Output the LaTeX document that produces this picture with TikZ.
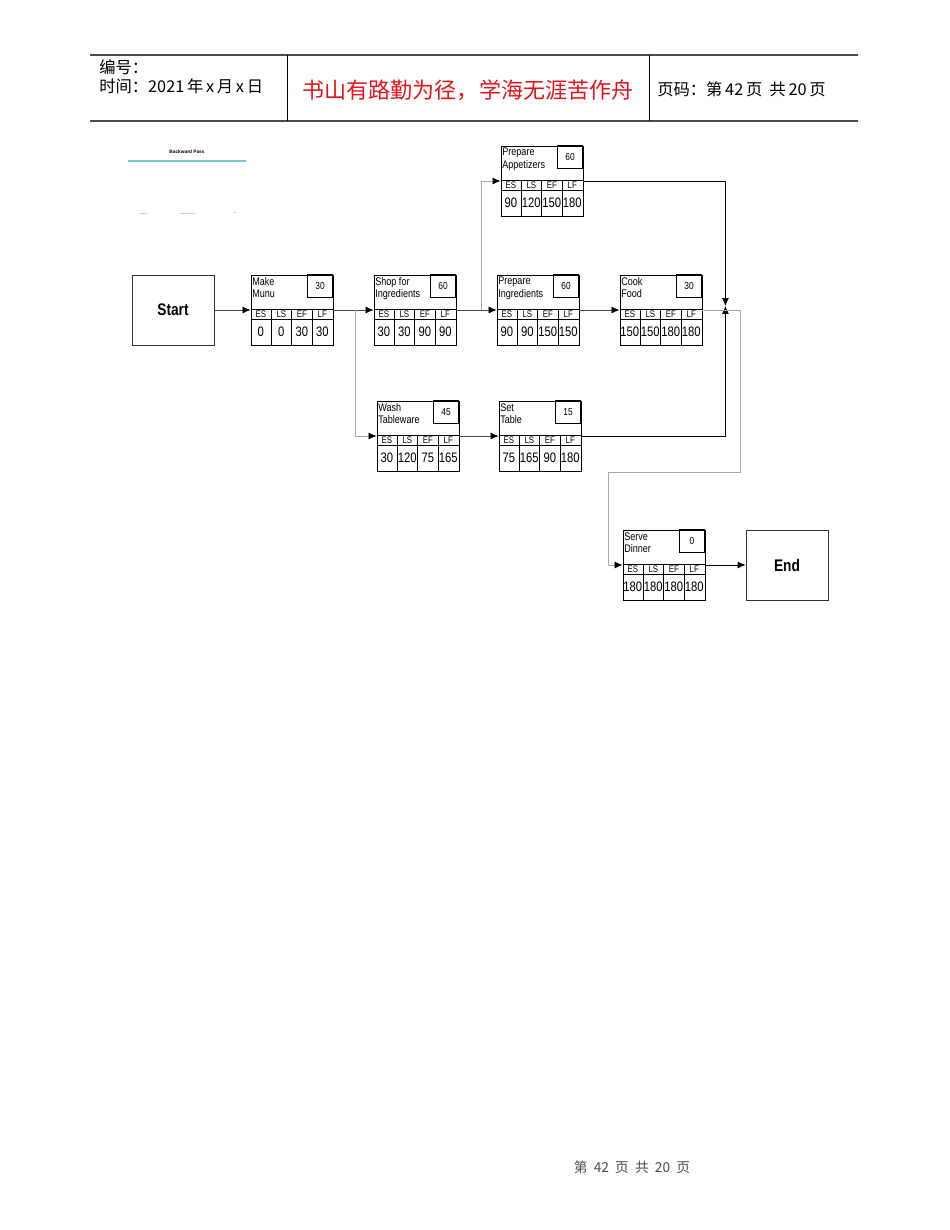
\documentclass[tikz,border=0pt]{standalone}
\usepackage{fontspec}
\setmainfont{Liberation Sans}
\newfontfamily\cjk{Noto Sans CJK SC}
\newfontfamily\boxfont[FakeStretch=0.82]{Liberation Sans}
\usetikzlibrary{arrows.meta,calc}

\definecolor{linkgray}{HTML}{4A4A4A}
\definecolor{feedgray}{HTML}{A8A8A8}
\definecolor{mottored}{HTML}{E5121C}
\definecolor{passblue}{HTML}{7FC3D6}

\tikzset{
  boxline/.style={draw=black, line width=0.55pt},
  actrect/.style={boxline, rectangle, inner sep=0pt,
    minimum width=82*0.626pt, minimum height=70*0.626pt},
  termbox/.style={draw=black!80, line width=0.5pt, rectangle, inner sep=0pt,
    minimum width=82*0.626pt, minimum height=70*0.626pt,
    font=\boxfont\bfseries\fontsize{10.5}{12}\selectfont},
  nametxt/.style={anchor=north west, inner sep=0pt, align=left,
    font=\boxfont\fontsize{6.9}{7.8}\selectfont},
  durtxt/.style={inner sep=0pt, font=\boxfont\fontsize{6.4}{7}\selectfont},
  lbltxt/.style={inner sep=0pt, font=\boxfont\fontsize{6}{6.5}\selectfont},
  valtxt/.style={inner sep=0pt, font=\boxfont\fontsize{8.6}{9}\selectfont},
  conn/.style={draw=linkgray, line width=0.5pt,
    -{Latex[length=5pt, width=4.4pt, color=black]}},
  feed/.style={conn, draw=feedgray},
  hdrline/.style={draw=black!70, line width=0.8pt},
}

% activity box: id, x, y (centre), name, duration, ES, LS, EF, LF
\newcommand\actbox[9]{%
  \node[actrect] (#1) at (#2,#3) {};
  \begin{scope}[shift={(#1.north west)}]
    \draw[boxline] (57,0) rectangle (82,23);
    \node[durtxt] at (69.5,11.5) {#5};
    \node[nametxt] at (1.5,2.5) {#4};
    \draw[boxline] (0,35) -- (82,35);
    \draw[boxline] (0,45) -- (82,45);
    \foreach \c in {20.5,41,61.5}
      \draw[boxline] (\c,35) -- (\c,70);
    \foreach \t [count=\i] in {ES,LS,EF,LF}
      \node[lbltxt] at (\i*20.5-10.25,40) {\t};
    \node[valtxt] at (10.25,57.5) {#6};
    \node[valtxt] at (30.75,57.5) {#7};
    \node[valtxt] at (51.25,57.5) {#8};
    \node[valtxt] at (71.75,57.5) {#9};
  \end{scope}}

\begin{document}
\begin{tikzpicture}[x=0.626pt, y=-0.626pt]
  \useasboundingbox (0,0) rectangle (950,1230);

  % page header
  \draw[hdrline] (90,55) -- (858,55);
  \draw[hdrline] (90,121) -- (858,121);
  \draw[boxline] (287,55) -- (287,121);
  \draw[boxline] (649,55) -- (649,121);
  \node[anchor=west, inner sep=0pt, font=\cjk\fontsize{10.2}{11}\selectfont] (hno) at (99,67) {编号：};
  \node[anchor=west, inner sep=0pt, font=\cjk\fontsize{10.2}{11}\selectfont] (hdate) at (99,86) {时间：2021\,年\,x\,月\,x\,日};
  \node[inner sep=0pt, text=mottored, font=\cjk\fontsize{13.8}{15}\selectfont] (motto) at (468,90) {书山有路勤为径，学海无涯苦作舟};
  \node[anchor=west, inner sep=0pt, font=\cjk\fontsize{10.2}{11}\selectfont] (hpage) at (657,89) {页码：第\,42\,页\ \ 共\,20\,页};

  % slide title remains
  \node[inner sep=0pt, font=\bfseries\fontsize{3}{3.5}\selectfont] (title) at (187,152) {Backward Pass};
  \draw[passblue, line width=1.3pt] (128,161) -- (246,161);
  \draw[passblue!60, line width=0.4pt] (139,213) -- (147,213) (180,213) -- (195,213) (234,212) -- (236,212);

  % network
  \node[termbox] (start) at (173,310) {Start};
  \actbox{munu}{292}{310}{Make\\Munu}{30}{0}{0}{30}{30}
  \actbox{shop}{415}{310}{Shop for\\Ingredients}{60}{30}{30}{90}{90}
  \actbox{prepi}{538}{310}{Prepare\\Ingredients}{60}{90}{90}{150}{150}
  \actbox{cook}{661}{310}{Cook\\Food}{30}{150}{150}{180}{180}
  \actbox{appet}{542}{181}{Prepare\\Appetizers}{60}{90}{120}{150}{180}
  \actbox{wash}{418}{436}{Wash\\Tableware}{45}{30}{120}{75}{165}
  \actbox{settab}{540}{436}{Set\\Table}{15}{75}{165}{90}{180}
  \actbox{serve}{664}{565}{Serve\\Dinner}{0}{180}{180}{180}{180}
  \node[termbox] (end) at (787,565) {End};

  \coordinate (split1) at ($(munu.east)+(22,0)$);
  \coordinate (split2) at ($(shop.east)+(25,0)$);
  \coordinate (join) at ($(cook.east)+(23,-4)$);

  \draw[conn] (start) -- (munu);
  \draw[conn] (munu) -- (shop);
  \draw[feed] (split1) |- (wash);
  \draw[conn] (shop) -- (prepi);
  \draw[feed] (split2) |- (appet);
  \draw[conn] (prepi) -- (cook);
  \draw[conn] (wash) -- (settab);
  \draw[conn, draw=black] (appet.east) -| (join);
  \draw[conn, draw=black] (settab.east) -| (join);
  \draw[feed] (cook.east) -- ++(38,0) -- ++(0,162) -- ++(-132,0) |- (serve);
  \draw[conn, draw=black] (serve) -- (end);

  % page footer
  \node[inner sep=0pt, text=black!70, font=\cjk\fontsize{8.6}{10}\selectfont] (foot) at (632,1167) {第\ \ 42\ \ 页\ \ 共\ \ 20\ \ 页};
\end{tikzpicture}
\end{document}
